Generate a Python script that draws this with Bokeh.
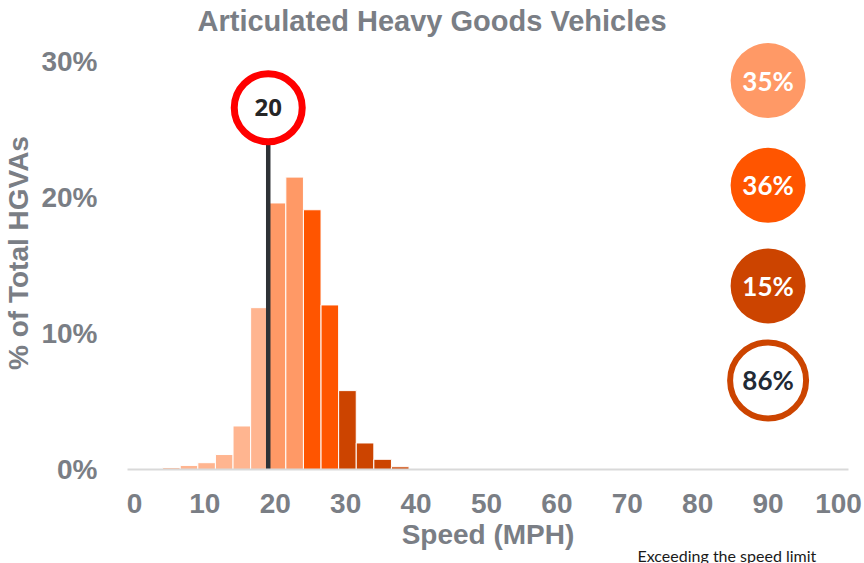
from bokeh.plotting import figure
from bokeh.models import Range1d, FixedTicker, PrintfTickFormatter, Title, ColumnDataSource
from bokeh.core.properties import value
from bokeh.embed import file_html
from bokeh.resources import INLINE

# ---- data ----
title_text = "Articulated Heavy Goods Vehicles"
bin_left = [4.0, 6.5, 9.0, 11.5, 14.0, 16.5, 19.0, 21.5, 24.0, 26.5, 29.0, 31.5, 34.0, 36.5]
bin_width = 2.5
share_pct = [0.15, 0.3, 0.5, 1.1, 3.2, 11.9, 19.6, 21.5, 19.1, 12.1, 5.8, 1.95, 0.75, 0.2]
bin_band = ["below"] * 6 + ["band1"] * 2 + ["band2"] * 2 + ["band3"] * 4
band_colors = {"below": "#FFB590", "band1": "#FF9966", "band2": "#FF5500", "band3": "#CC4400"}

limit_speed = 19.0
limit_label = "20"
limit_sign_y = 26.6

summary_labels = ["35%", "36%", "15%", "86%"]
summary_x = [90, 90, 90, 90]
summary_y = [28.6, 20.9, 13.5, 6.55]
summary_fill = ["#FF9966", "#FF5500", "#CC4400", "#FFFFFF"]
summary_text_color = ["#FFFFFF", "#FFFFFF", "#FFFFFF", "#222A35"]
footer_text = "Exceeding the speed limit"

x_ticks = [0, 10, 20, 30, 40, 50, 60, 70, 80, 90, 100]
y_ticks = [0, 10, 20, 30]

gray = "#7A7E85"

p = figure(width=864, height=563, output_backend="svg", toolbar_location=None,
           x_range=Range1d(-0.99, 101.42), y_range=Range1d(0, 31.84),
           min_border_left=126, min_border_right=16, min_border_top=36, min_border_bottom=94)
p.outline_line_color = None
p.background_fill_color = "white"
p.border_fill_color = "white"

p.title.text = title_text
p.title.align = "left"
p.title.offset = 70
p.title.standoff = 0
p.title.text_font = "Liberation Sans"
p.title.text_font_style = "bold"
p.title.text_font_size = "29px"
p.title.text_color = gray

p.xgrid.visible = False
p.ygrid.visible = False

# axes
xa = p.xaxis[0]
xa.ticker = FixedTicker(ticks=x_ticks)
xa.axis_line_color = "#D9D9D9"
xa.axis_line_width = 2
xa.major_tick_line_color = None
xa.minor_tick_line_color = None
xa.major_label_standoff = 18
xa.major_label_text_font = "Liberation Sans"
xa.major_label_text_font_style = "bold"
xa.major_label_text_font_size = "28px"
xa.major_label_text_color = gray
xa.axis_label = "Speed (MPH)"
xa.axis_label_standoff = 3
xa.axis_label_text_font = "Liberation Sans"
xa.axis_label_text_font_style = "bold"
xa.axis_label_text_font_size = "28px"
xa.axis_label_text_color = gray

ya = p.yaxis[0]
ya.ticker = FixedTicker(ticks=y_ticks)
ya.formatter = PrintfTickFormatter(format="%d%%")
ya.axis_line_color = None
ya.major_tick_line_color = None
ya.minor_tick_line_color = None
ya.major_label_standoff = 24
ya.major_label_text_font = "Liberation Sans"
ya.major_label_text_font_style = "bold"
ya.major_label_text_font_size = "28px"
ya.major_label_text_color = gray
ya.axis_label = "% of Total HGVAs"
ya.axis_label_standoff = 4
ya.axis_label_text_font = "Liberation Sans"
ya.axis_label_text_font_style = "bold"
ya.axis_label_text_font_size = "28px"
ya.axis_label_text_color = gray

# bars
src = ColumnDataSource(dict(
    left=bin_left,
    right=[b + bin_width for b in bin_left],
    top=share_pct,
    color=[band_colors[b] for b in bin_band],
))
p.quad(left="left", right="right", bottom=0, top="top", fill_color="color",
       line_color="white", line_width=1, source=src)

# speed limit pole and sign
p.segment(x0=[limit_speed], y0=[0], x1=[limit_speed], y1=[limit_sign_y],
          line_color="#2E3236", line_width=4.5)
p.scatter(x=[limit_speed], y=[limit_sign_y], size=68, marker="circle",
          fill_color="white", line_color="#FF0000", line_width=7)
p.text(x=[limit_speed], y=[limit_sign_y], text=[limit_label], text_align="center",
       text_baseline="middle", text_font=value("Open Sans"), text_font_style="bold",
       text_font_size="24px", text_color="#262626")

# summary circles
p.scatter(x=summary_x[:3], y=summary_y[:3], size=75, marker="circle",
          fill_color=summary_fill[:3], line_color=None)
p.scatter(x=summary_x[3:], y=summary_y[3:], size=76, marker="circle",
          fill_color=summary_fill[3:], line_color="#CC4400", line_width=6)
p.text(x=summary_x, y=summary_y, text=summary_labels, text_align="center",
       text_baseline="middle", text_font=value("Lato"), text_font_style="bold",
       text_font_size="26px", text_color=summary_text_color)

# footer fragment below the chart
footer = Title(text=footer_text, align="left", offset=510, standoff=-18,
               text_font="Lato", text_font_style="normal", text_font_size="16px",
               text_color="#1A1A1A")
p.add_layout(footer, "below")

open("out.html", "w").write(file_html(p, INLINE))
